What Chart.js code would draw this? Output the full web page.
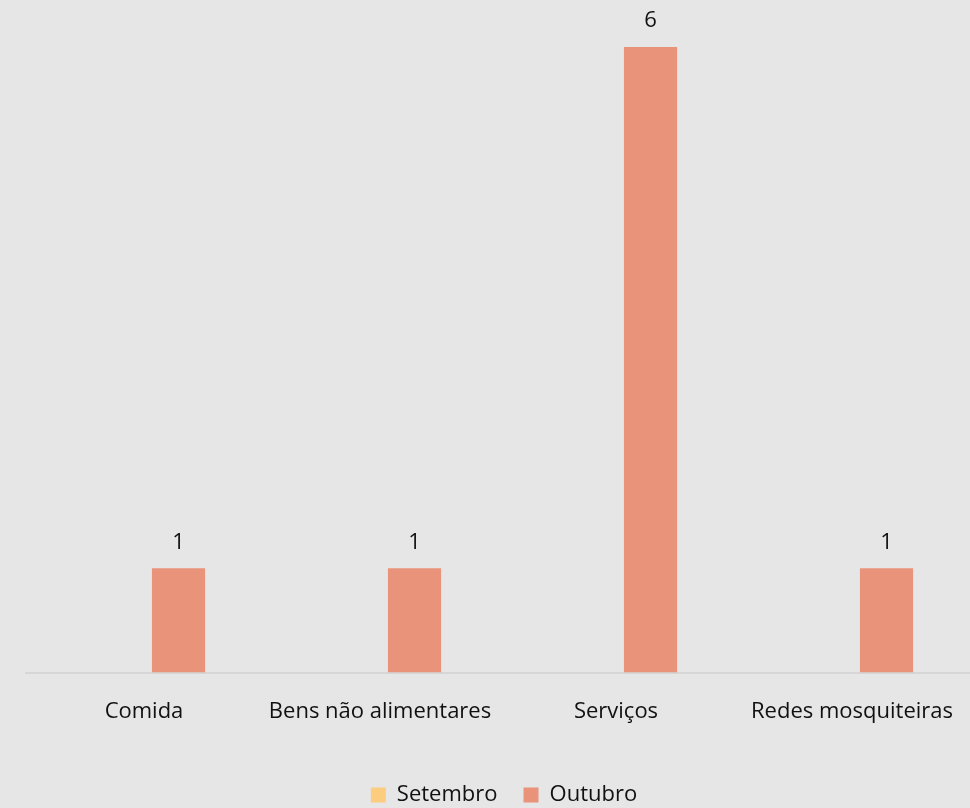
<!DOCTYPE html>
<html>
<head>
<meta charset="utf-8">
<script src="https://cdn.jsdelivr.net/npm/chart.js@4.4.1/dist/chart.umd.min.js"></script>
<style>
  html, body { margin: 0; padding: 0; background: #e6e6e6; }
  #wrap { width: 970px; height: 808px; }
</style>
</head>
<body>
<div id="wrap"><canvas id="chart"></canvas></div>
<script>
const categories = ["Comida", "Bens não alimentares", "Serviços", "Redes mosquiteiras"];
const setembro = [0, 0, 0, 0];
const outubro = [1, 1, 6, 1];

const FONT = "'Open Sans', 'Noto Sans', sans-serif";

// valores por cima das barras de Outubro
const valueLabels = {
  id: "valueLabels",
  afterDatasetsDraw(chart) {
    const { ctx } = chart;
    const meta = chart.getDatasetMeta(1);
    ctx.save();
    ctx.font = "22px " + FONT;
    ctx.fillStyle = "#111";
    ctx.textAlign = "center";
    ctx.textBaseline = "middle";
    meta.data.forEach((bar, i) => {
      ctx.fillText(String(outubro[i]), bar.x, bar.y - 26);
    });
    ctx.restore();
  }
};

new Chart(document.getElementById("chart"), {
  type: "bar",
  data: {
    labels: categories,
    datasets: [
      { label: "Setembro", data: setembro, backgroundColor: "#fdcd7f" },
      { label: "Outubro", data: outubro, backgroundColor: "#e8937a" }
    ]
  },
  options: {
    responsive: true,
    maintainAspectRatio: false,
    animation: false,
    categoryPercentage: 0.585,
    barPercentage: 0.77,
    layout: { padding: { left: 26, right: -12, top: 0, bottom: -8 } },
    plugins: {
      legend: {
        position: "bottom",
        labels: {
          boxWidth: 15,
          boxHeight: 15,
          padding: 26,
          color: "#111",
          font: { family: FONT, size: 22 }
        }
      },
      tooltip: { enabled: false }
    },
    scales: {
      x: {
        grid: { display: false },
        border: { color: "#d6d6d6", width: 2 },
        ticks: { color: "#111", padding: 18, font: { family: FONT, size: 22 } },
        afterFit(scale) {
          // espaço extra entre os rótulos e a legenda; eixo até à borda direita
          scale.height += 15;
          scale.paddingRight = 0;
        }
      },
      y: {
        display: false,
        min: 0,
        max: 6.45
      }
    }
  },
  plugins: [valueLabels]
});
</script>
</body>
</html>
